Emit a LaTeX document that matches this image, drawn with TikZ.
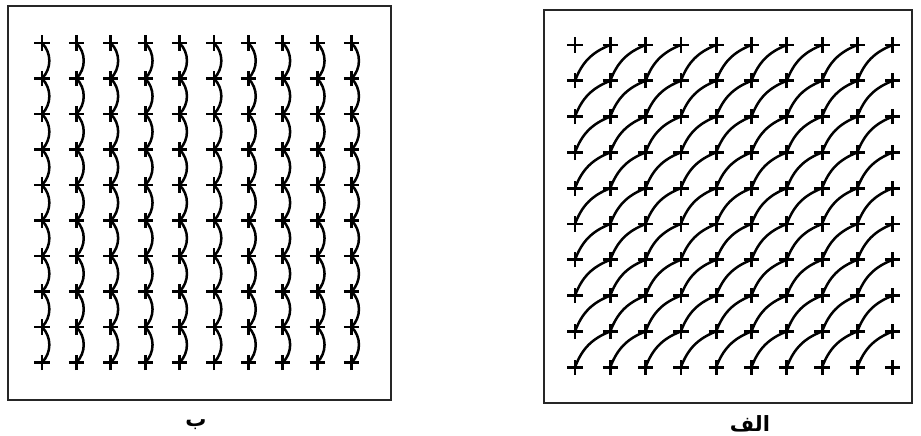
\documentclass[tikz,border=0pt]{standalone}
\usepackage{fontspec}
\newfontfamily\arabicfont[Script=Arabic]{DejaVu Sans}
\TeXXeTstate=1
\usetikzlibrary{shapes.misc}
\tikzset{
  frame/.style   = {draw=black!85, line width=1.6pt},
  plusmark/.style = {cross out, draw=black, rotate=45, minimum size=8pt,
                   inner sep=0pt, line width=2.8pt},
  wiggle/.style  = {draw=black, line width=2.5pt, line cap=round},
  caption/.style = {font=\arabicfont\bfseries\fontsize{21}{24}\selectfont, inner sep=0pt},
}
\begin{document}
\begin{tikzpicture}[x=1pt,y=-1pt]
  \useasboundingbox (0,0) rectangle (921,436);
  % frames
  \draw[frame] (8,6) rectangle (391,400);
  \draw[frame] (544,10) rectangle (912,403);
  % left panel (b): vertical chains
  \foreach \c in {0,...,9}{
    \foreach \r in {0,...,9}{
      \node[plusmark] (L-\c-\r) at ({42+34.4*\c},{43+35.5*\r}) {};
    }
  }
  \foreach \c in {0,...,9}{
    \foreach \r [evaluate=\r as \s using int(\r+1)] in {0,...,8}{
      \draw[wiggle] (L-\c-\r.center) to[bend left=45] (L-\c-\s.center);
    }
  }
  % right panel (alef): diagonal chains
  \foreach \c in {0,...,9}{
    \foreach \r in {0,...,9}{
      \node[plusmark] (R-\c-\r) at ({575+35.3*\c},{45+35.8*\r}) {};
    }
  }
  \foreach \c [evaluate=\c as \d using int(\c+1)] in {0,...,8}{
    \foreach \r [evaluate=\r as \s using int(\r+1)] in {0,...,8}{
      \draw[wiggle] (R-\c-\s.center) to[bend left=24] (R-\d-\r.center);
    }
  }
  % captions
  \node[caption] (capb) at (196,425) {\beginR ب\endR};
  \node[caption] (capa) at (750,424) {\beginR الف\endR};
\end{tikzpicture}
\end{document}
